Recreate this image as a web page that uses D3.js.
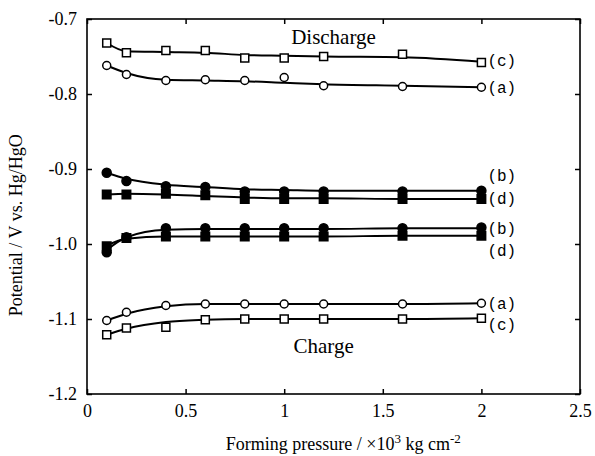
<!DOCTYPE html>
<html>
<head>
<meta charset="utf-8">
<script src="https://cdn.jsdelivr.net/npm/d3@7"></script>
<style>
	body { margin: 0; background: #fff; }
	text { font-family: "Liberation Serif", "Times New Roman", serif; fill: #000; }
	.axis-label { font-size: 18px; }
	.mode-label { font-size: 21px; }
	.series-label { font-family: "Liberation Mono", "DejaVu Sans Mono", monospace; font-size: 16px; }
</style>
</head>
<body>
<div id="wrapper"></div>
<script>

// Data

const pressure = [0.1, 0.2, 0.4, 0.6, 0.8, 1.0, 1.2, 1.6, 2.0];

const xTicks = [0, 0.5, 1, 1.5, 2, 2.5];
const xTickLabels = ["0", "0.5", "1", "1.5", "2", "2.5"];
const yTicks = [-0.7, -0.8, -0.9, -1.0, -1.1, -1.2];
const yTickLabels = ["-0.7", "-0.8", "-0.9", "-1.0", "-1.1", "-1.2"];

// measured points
const dischargeC = [-0.732, -0.745, -0.742, -0.742, -0.752, -0.752, -0.750, -0.747, -0.758];
const dischargeA = [-0.762, -0.774, -0.782, -0.781, -0.782, -0.778, -0.789, -0.790, -0.791];
const dischargeB = [-0.905, -0.916, -0.923, -0.924, -0.930, -0.930, -0.930, -0.930, -0.929];
const dischargeD = [-0.934, -0.934, -0.933, -0.935, -0.940, -0.940, -0.940, -0.940, -0.940];
const chargeB = [-1.011, -0.991, -0.979, -0.979, -0.979, -0.979, -0.979, -0.979, -0.978];
const chargeD = [-1.003, -0.992, -0.990, -0.990, -0.990, -0.990, -0.990, -0.989, -0.989];
const chargeA = [-1.102, -1.091, -1.082, -1.080, -1.080, -1.080, -1.080, -1.080, -1.079];
const chargeC = [-1.121, -1.112, -1.111, -1.101, -1.100, -1.100, -1.100, -1.100, -1.099];

// drawn (fitted) lines, read at the same pressures
const dischargeCLine = [-0.732, -0.743, -0.744, -0.745, -0.748, -0.749, -0.750, -0.751, -0.757];
const dischargeALine = [-0.762, -0.772, -0.781, -0.782, -0.783, -0.785, -0.787, -0.789, -0.791];
const dischargeBLine = [-0.905, -0.913, -0.921, -0.924, -0.927, -0.928, -0.929, -0.929, -0.929];
const dischargeDLine = [-0.934, -0.933, -0.934, -0.936, -0.938, -0.939, -0.939, -0.940, -0.940];
const chargeBLine = [-1.008, -0.991, -0.981, -0.980, -0.980, -0.980, -0.980, -0.979, -0.979];
const chargeDLine = [-1.002, -0.993, -0.990, -0.990, -0.990, -0.990, -0.990, -0.989, -0.989];
const chargeALine = [-1.102, -1.093, -1.083, -1.080, -1.080, -1.080, -1.080, -1.080, -1.079];
const chargeCLine = [-1.121, -1.113, -1.104, -1.101, -1.100, -1.100, -1.100, -1.100, -1.099];

const seriesLabels = ["(c)", "(a)", "(b)", "(d)", "(b)", "(d)", "(a)", "(c)"];

function drawChart () {

	let dimensions = {
		width: 595,
		height: 456,
		margin: {
			top: 19,
			right: 15,
			bottom: 62,
			left: 87
		}
	};

	dimensions.boundedWidth = dimensions.width - dimensions.margin.left - dimensions.margin.right;
	dimensions.boundedHeight = dimensions.height - dimensions.margin.top - dimensions.margin.bottom;

	const wrapper = d3.select("#wrapper")
						.append("svg")
						.attr("width", dimensions.width)
						.attr("height", dimensions.height);

	const bounds = wrapper.append("g")
							.attr("transform", `translate(${dimensions.margin.left}, ${dimensions.margin.top})`);

	// Scales

	const xScale = d3.scaleLinear()
						.domain([0, 2.5])
						.range([0, dimensions.boundedWidth]);

	const yScale = d3.scaleLinear()
						.domain([-1.2, -0.7])
						.range([dimensions.boundedHeight, 0]);

	// Series

	const series = [
		{ points: dischargeC, fit: dischargeCLine, shape: "square", filled: false, label: seriesLabels[0], labelDy: -1 },
		{ points: dischargeA, fit: dischargeALine, shape: "circle", filled: false, label: seriesLabels[1], labelDy: 0 },
		{ points: dischargeB, fit: dischargeBLine, shape: "circle", filled: true, label: seriesLabels[2], labelDy: -15 },
		{ points: dischargeD, fit: dischargeDLine, shape: "square", filled: true, label: seriesLabels[3], labelDy: -1 },
		{ points: chargeB, fit: chargeBLine, shape: "circle", filled: true, label: seriesLabels[4], labelDy: 0 },
		{ points: chargeD, fit: chargeDLine, shape: "square", filled: true, label: seriesLabels[5], labelDy: 15 },
		{ points: chargeA, fit: chargeALine, shape: "circle", filled: false, label: seriesLabels[6], labelDy: 0 },
		{ points: chargeC, fit: chargeCLine, shape: "square", filled: false, label: seriesLabels[7], labelDy: 6 }
	];

	const lineGenerator = d3.line()
							.x((d, i) => xScale(pressure[i]))
							.y(d => yScale(d))
							.curve(d3.curveMonotoneX);

	bounds.selectAll(".fit")
			.data(series)
			.join("path")
			.attr("class", "fit")
			.attr("d", d => lineGenerator(d.fit))
			.attr("fill", "none")
			.attr("stroke", "#000")
			.attr("stroke-width", 2);

	series.forEach(s => {
		const g = bounds.append("g");
		const pts = s.points.map((v, i) => ({ x: pressure[i], y: v }));
		if (s.shape == "circle") {
			g.selectAll("circle")
				.data(pts)
				.join("circle")
				.attr("cx", d => xScale(d.x))
				.attr("cy", d => yScale(d.y))
				.attr("r", s.filled ? 4.5 : 4)
				.attr("fill", s.filled ? "#000" : "#fff")
				.attr("stroke", "#000")
				.attr("stroke-width", 1.5);
		} else {
			const size = s.filled ? 8.5 : 8;
			g.selectAll("rect")
				.data(pts)
				.join("rect")
				.attr("x", d => xScale(d.x) - size / 2)
				.attr("y", d => yScale(d.y) - size / 2)
				.attr("width", size)
				.attr("height", size)
				.attr("fill", s.filled ? "#000" : "#fff")
				.attr("stroke", "#000")
				.attr("stroke-width", 1.5);
		}

		bounds.append("text")
				.attr("class", "series-label")
				.attr("x", xScale(2.0) + 6)
				.attr("y", yScale(s.fit[s.fit.length - 1]) + s.labelDy)
				.attr("dy", "0.35em")
				.text(s.label);
	});

	// Frame and ticks (inward, all four sides)

	bounds.append("rect")
			.attr("width", dimensions.boundedWidth)
			.attr("height", dimensions.boundedHeight)
			.attr("fill", "none")
			.attr("stroke", "#000")
			.attr("stroke-width", 1.6);

	const tickLen = 5;

	const xAxis = d3.axisBottom(xScale)
					.tickValues(xTicks)
					.tickSizeInner(-tickLen)
					.tickSizeOuter(0)
					.tickPadding(10)
					.tickFormat((d, i) => xTickLabels[i]);

	const xAxisGroup = bounds.append("g")
								.attr("transform", `translate(0, ${dimensions.boundedHeight})`)
								.call(xAxis);

	const xAxisTop = d3.axisTop(xScale)
						.tickValues(xTicks)
						.tickSizeInner(-tickLen)
						.tickSizeOuter(0)
						.tickFormat("");

	const xTopGroup = bounds.append("g").call(xAxisTop);

	const yAxis = d3.axisLeft(yScale)
					.tickValues(yTicks)
					.tickSizeInner(-tickLen)
					.tickSizeOuter(0)
					.tickPadding(10)
					.tickFormat((d, i) => yTickLabels[i]);

	const yAxisGroup = bounds.append("g").call(yAxis);

	const yAxisRight = d3.axisRight(yScale)
						.tickValues(yTicks)
						.tickSizeInner(-tickLen)
						.tickSizeOuter(0)
						.tickFormat("");

	const yRightGroup = bounds.append("g")
								.attr("transform", `translate(${dimensions.boundedWidth}, 0)`)
								.call(yAxisRight);

	[xAxisGroup, xTopGroup, yAxisGroup, yRightGroup].forEach(g => {
		g.select(".domain").remove();
		g.selectAll(".tick line").attr("stroke", "#000").attr("stroke-width", 1.5);
		g.selectAll(".tick text")
			.attr("fill", "#000")
			.style("font-family", "'Liberation Serif', serif")
			.style("font-size", "18px");
	});

	// Labels

	bounds.append("text")
			.attr("class", "mode-label")
			.attr("x", xScale(1.25))
			.attr("y", 25)
			.style("text-anchor", "middle")
			.text("Discharge");

	bounds.append("text")
			.attr("class", "mode-label")
			.attr("x", xScale(1.2))
			.attr("y", yScale(-1.145))
			.style("text-anchor", "middle")
			.text("Charge");

	const xLabel = wrapper.append("text")
							.attr("class", "axis-label")
							.attr("x", dimensions.margin.left + xScale(1.3))
							.attr("y", 450)
							.style("text-anchor", "middle");
	xLabel.append("tspan").text("Forming pressure / \u00d710");
	xLabel.append("tspan").attr("dy", -7).style("font-size", "13px").text("3");
	xLabel.append("tspan").attr("dy", 7).text(" kg cm");
	xLabel.append("tspan").attr("dy", -7).style("font-size", "13px").text("-2");

	wrapper.append("text")
			.attr("class", "axis-label")
			.attr("transform", `translate(22, ${dimensions.margin.top + yScale(-0.975)}) rotate(-90)`)
			.style("text-anchor", "middle")
			.text("Potential / V vs. Hg/HgO");

};

drawChart();

</script>
</body>
</html>
